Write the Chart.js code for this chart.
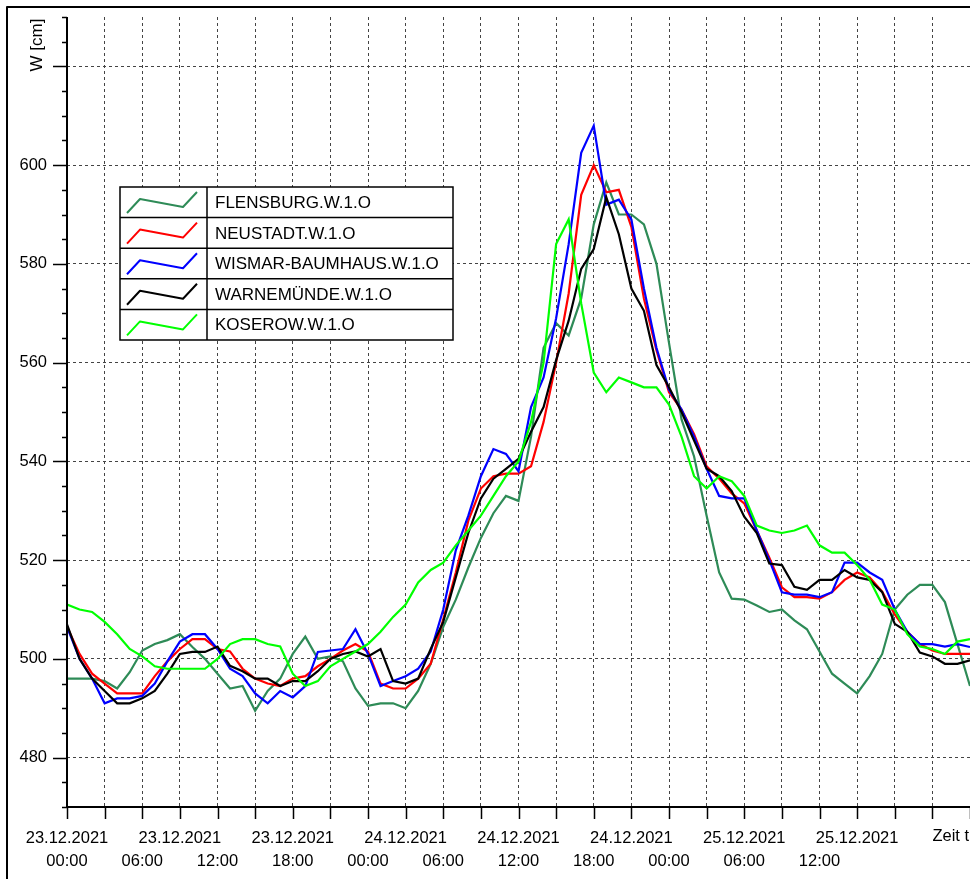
<!DOCTYPE html>
<html>
<head>
<meta charset="utf-8">
<script src="https://cdn.jsdelivr.net/npm/chart.js@4.4.1/dist/chart.umd.min.js"></script>
<style>
  html, body { margin: 0; padding: 0; background: #fff; }
  canvas { display: block; }
</style>
</head>
<body>
<canvas id="pegelChart" width="970" height="879"></canvas>
<script>
// Stunden ab 23.12.2021 00:00
const hours = [
  0, 1, 2, 3, 4, 5, 6, 7, 8, 9, 10, 11, 12, 13, 14, 15, 16, 17, 18, 19, 20, 21, 22, 23,
  24, 25, 26, 27, 28, 29, 30, 31, 32, 33, 34, 35, 36, 37, 38, 39, 40, 41, 42, 43, 44, 45, 46, 47,
  48, 49, 50, 51, 52, 53, 54, 55, 56, 57, 58, 59, 60, 61, 62, 63, 64, 65, 66, 67, 68, 69, 70, 71, 72
];

const flensburg = [
  496, 496, 496, 495.5, 494, 497.3, 501.7, 503, 503.8, 505, 502.4, 500, 497, 494, 494.5, 489.5, 493.5, 496, 501, 504.5, 500, 500.5, 499.5, 494,
  490.5, 491, 491, 490, 493.5, 499, 506.5, 512, 518.5, 524.5, 529.5, 533, 532, 545, 563, 568, 565.5, 573, 588, 596.5,
  590, 590, 588, 580, 564, 548.5, 541, 529, 517.5, 512.2, 512, 510.8, 509.5, 510, 507.8, 506, 501.5, 497, 495, 493, 496.5, 501, 510, 513, 515, 515, 511.5, 503, 494.5
];
const neustadt = [
  506.5, 501, 497, 495, 493, 493, 493, 496.5, 499.5, 502, 504, 504, 502, 501.5, 498, 496, 495, 494.5, 496, 496.5, 498.5, 500, 501.7, 503,
  501.5, 495, 494, 494, 496, 499, 508, 517.5, 528, 534.5, 537, 537.5, 537.5, 539, 548, 560, 574, 594, 600, 594.5,
  595, 587.5, 573, 562.5, 554, 550.5, 545.5, 539, 536.5, 533.5, 531.5, 526, 520.5, 514.5, 512.5, 512.5, 512.2, 513.5, 516, 517.5, 516.5, 513.6, 509, 505.5, 503, 501.7, 501, 501, 501
];
const wismar = [
  506.5, 500, 496, 491, 492, 492, 492.5, 495, 499.5, 503.5, 505, 505, 502, 498, 496.5, 493, 491, 493.5, 492.2, 494.5, 501.4, 501.7, 502, 506,
  501, 494.5, 495.5, 496.5, 498, 501.5, 510, 522, 529, 537, 542.5, 541.5, 538, 551, 557, 569, 584, 602.5, 608, 592,
  593, 589, 575, 563, 554.5, 550.5, 545, 538.5, 533, 532.5, 532.5, 526, 520, 513.5, 513, 513, 512.5, 513.5, 519.5, 519.5, 517.5, 516, 510, 505.5, 503, 503, 502.5, 503, 502.4
];
const warnemuende = [
  507, 500, 496, 493.5, 491, 491, 492, 493.5, 497, 501, 501.4, 501.4, 502.5, 498.6, 497.5, 496, 496, 494.5, 495.5, 495.5, 497.5, 500, 501, 501.5,
  500.5, 502, 495.5, 495, 496, 502, 507.5, 516.5, 525.5, 532.5, 536.5, 538.5, 540.5, 546, 551, 560.5, 568.5, 579, 583, 593.5,
  586, 575, 570.5, 559.5, 555, 550, 544.2, 538.5, 537, 534, 528.8, 525.5, 519.3, 519, 514.6, 514, 516, 516, 518, 516.5, 516, 513.5, 507.1, 505.5, 501.3, 500.5, 499, 499, 499.7
];
const koserow = [
  511, 510, 509.5, 507.5, 505, 502, 500.5, 498.5, 498, 498, 498, 498, 500, 503, 504, 504, 503, 502.5, 497, 494.5, 495.5, 498.5, 500, 501.5,
  503, 505.5, 508.5, 511, 515.5, 518, 519.5, 523, 526, 529, 533, 537, 540, 548, 560, 584, 589, 572, 558, 554,
  557, 556, 555, 555, 551.5, 545, 537, 534.5, 537, 536, 533, 527, 526, 525.5, 526, 527, 523, 521.5, 521.5, 519, 516, 511, 510, 505, 502.5, 502, 501, 503.5, 504
];

// Beschriftung der Zeitachse: Datum alle 9 h, Uhrzeit alle 6 h
const xDateHours = [0, 9, 18, 27, 36, 45, 54, 63];
const xDateLabels = ['23.12.2021', '23.12.2021', '23.12.2021', '24.12.2021', '24.12.2021', '24.12.2021', '25.12.2021', '25.12.2021'];
const xTimeHours = [0, 6, 12, 18, 24, 30, 36, 42, 48, 54, 60];
const xTimeLabels = ['00:00', '06:00', '12:00', '18:00', '00:00', '06:00', '12:00', '18:00', '00:00', '06:00', '12:00'];
const yTickLabels = [480, 500, 520, 540, 560, 580, 600];

const series = [
  { label: 'FLENSBURG.W.1.O', values: flensburg, color: '#2e8b57' },
  { label: 'NEUSTADT.W.1.O', values: neustadt, color: '#ff0000' },
  { label: 'WISMAR-BAUMHAUS.W.1.O', values: wismar, color: '#0000ff' },
  { label: 'WARNEMÜNDE.W.1.O', values: warnemuende, color: '#000000' },
  { label: 'KOSEROW.W.1.O', values: koserow, color: '#00ff00' }
];

const FONT = 'Liberation Sans, Arial, sans-serif';
Chart.defaults.font.family = FONT;
Chart.defaults.color = '#000';

// Rahmen, Achsen, Striche, Legende
const framePlugin = {
  id: 'framePlugin',
  afterDraw(chart) {
    const { ctx, chartArea: a, scales: { x, y } } = chart;
    ctx.save();

    // Achsenlinien
    ctx.strokeStyle = '#000';
    ctx.lineWidth = 2;
    ctx.beginPath();
    ctx.moveTo(a.left, a.top);
    ctx.lineTo(a.left, a.bottom);
    ctx.lineTo(a.right, a.bottom);
    ctx.stroke();

    // Striche an den Achsen
    ctx.lineWidth = 1.5;
    ctx.beginPath();
    x.ticks.forEach(t => {
      const px = Math.round(x.getPixelForValue(t.value)) + 0.5;
      ctx.moveTo(px, a.bottom);
      ctx.lineTo(px, a.bottom + 12);
    });
    y.ticks.forEach(t => {
      const py = Math.round(y.getPixelForValue(t.value)) + 0.5;
      const len = t.value % 20 === 0 ? 14 : 5;
      ctx.moveTo(a.left - len, py);
      ctx.lineTo(a.left, py);
    });
    ctx.stroke();

    // Achsentitel
    ctx.fillStyle = '#000';
    ctx.font = '16.5px ' + FONT;
    ctx.textBaseline = 'middle';
    ctx.textAlign = 'left';
    ctx.fillText('Zeit t', x.getPixelForValue(69), 836);
    ctx.save();
    ctx.translate(37, 45);
    ctx.rotate(-Math.PI / 2);
    ctx.font = '17px ' + FONT;
    ctx.textAlign = 'center';
    ctx.fillText('W [cm]', 0, 0);
    ctx.restore();

    // Legende
    const lx = 120, lw = 333, ly = 187, rowH = 30.6, divX = 207;
    ctx.fillStyle = '#fff';
    ctx.fillRect(lx, ly, lw, rowH * series.length);
    ctx.strokeStyle = '#000';
    ctx.lineWidth = 1.5;
    ctx.strokeRect(lx, ly, lw, rowH * series.length);
    ctx.beginPath();
    ctx.moveTo(divX, ly);
    ctx.lineTo(divX, ly + rowH * series.length);
    for (let i = 1; i < series.length; i++) {
      ctx.moveTo(lx, ly + rowH * i);
      ctx.lineTo(lx + lw, ly + rowH * i);
    }
    ctx.stroke();

    ctx.font = '17px ' + FONT;
    ctx.textAlign = 'left';
    series.forEach((s, i) => {
      const top = ly + rowH * i;
      ctx.strokeStyle = s.color;
      ctx.lineWidth = 2;
      ctx.lineJoin = 'round';
      ctx.beginPath();
      ctx.moveTo(127, top + 26);
      ctx.lineTo(140, top + 12);
      ctx.lineTo(183, top + 20);
      ctx.lineTo(197, top + 5);
      ctx.stroke();
      ctx.fillStyle = '#000';
      ctx.fillText(s.label, 215, top + rowH / 2 + 1);
    });

    // Außenrahmen
    ctx.strokeStyle = '#000';
    ctx.lineWidth = 2;
    ctx.beginPath();
    ctx.moveTo(7, 879);
    ctx.lineTo(7, 7);
    ctx.lineTo(970, 7);
    ctx.stroke();

    ctx.restore();
  }
};

const ctx = document.getElementById('pegelChart').getContext('2d');

const pegelChart = new Chart(ctx, {
  type: 'line',
  data: {
    datasets: series.map((s, i) => ({
      label: s.label,
      data: hours.map((h, j) => ({ x: h, y: s.values[j] })),
      borderColor: s.color,
      borderWidth: 2.2,
      pointRadius: 0,
      tension: 0,
      fill: false,
      order: series.length - i // Koserow oben
    }))
  },
  options: {
    responsive: false,
    animation: false,
    devicePixelRatio: 1,
    layout: { padding: { top: 17, left: 0, right: 0, bottom: 0 } },
    plugins: {
      legend: { display: false },
      tooltip: { enabled: false }
    },
    scales: {
      x: {
        type: 'linear',
        min: 0,
        max: 72,
        afterFit: (scale) => {
          scale.height = 72;
          scale.paddingLeft = 0;
          scale.paddingRight = 0;
        },
        ticks: {
          stepSize: 3,
          autoSkip: false,
          maxRotation: 0,
          minRotation: 0,
          padding: 19,
          font: { size: 16.5, lineHeight: 1.45 },
          callback: (value) => {
            const d = xDateHours.indexOf(value);
            const t = xTimeHours.indexOf(value);
            if (d < 0 && t < 0) return '';
            return [d >= 0 ? xDateLabels[d] : '', t >= 0 ? xTimeLabels[t] : ''];
          }
        },
        grid: {
          color: '#444',
          lineWidth: 1,
          drawTicks: false
        },
        border: { display: false, dash: [3, 3] }
      },
      y: {
        type: 'linear',
        min: 470,
        max: 630,
        afterFit: (scale) => {
          scale.width = 67;
          scale.paddingTop = 0;
          scale.paddingBottom = 0;
        },
        ticks: {
          stepSize: 5,
          autoSkip: false,
          padding: 20,
          font: { size: 16.5 },
          callback: (value) => yTickLabels.includes(value) ? String(value) : ''
        },
        grid: {
          color: (c) => (c.tick && c.tick.value % 20 === 0 ? '#444' : 'rgba(0,0,0,0)'),
          lineWidth: 1,
          drawTicks: false
        },
        border: { display: false, dash: [3, 3] }
      }
    }
  },
  plugins: [framePlugin]
});
</script>
</body>
</html>
